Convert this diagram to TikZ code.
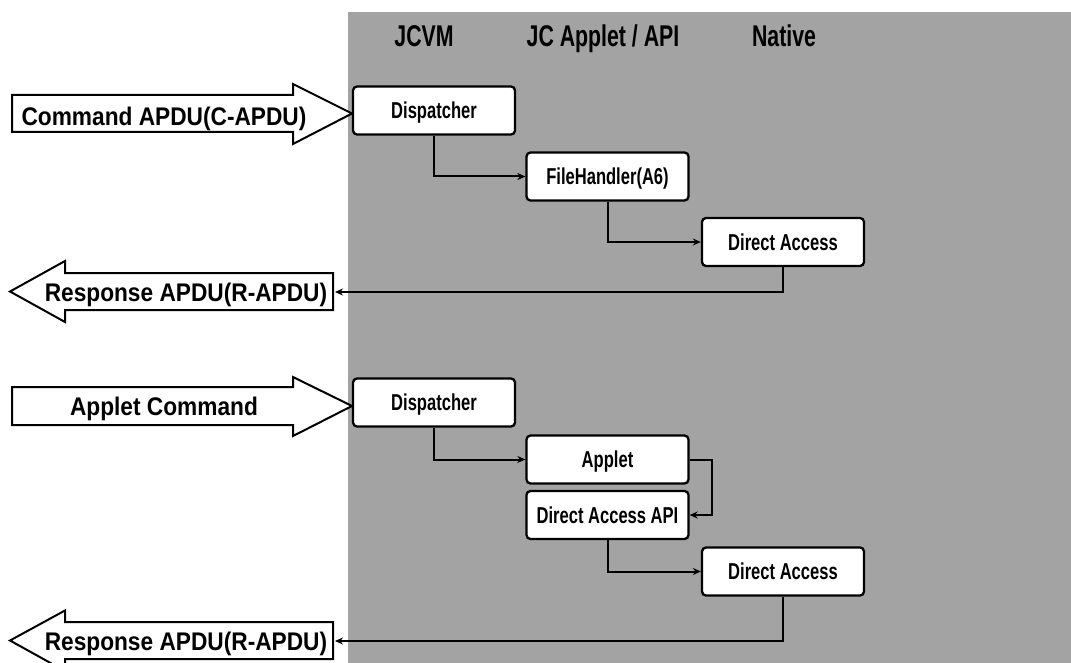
\documentclass[tikz,border=0pt]{standalone}
\usepackage{fontspec}
\setmainfont{Liberation Sans}
\newfontfamily\boxfont[FakeStretch=0.72]{Liberation Sans}
\newfontfamily\headfont[FakeStretch=0.71]{Liberation Sans}
\newfontfamily\lblfont[FakeStretch=0.89]{Liberation Sans}
\usetikzlibrary{arrows.meta}
\definecolor{panel}{gray}{0.64}
\tikzset{
  stage/.style={draw=black, fill=white, line width=2.3pt, rounded corners=4pt,
    minimum width=162pt, minimum height=48pt, inner sep=0pt,
    text height=16.5pt, text depth=0pt,
    font=\boxfont\fontsize{23}{25}\selectfont\bfseries},
  colhead/.style={inner sep=0pt, text height=21.5pt, text depth=0pt,
    font=\headfont\fontsize{30}{32}\selectfont\bfseries},
  biglabel/.style={inner sep=0pt, text height=18.3pt, text depth=0pt,
    font=\lblfont\fontsize{25.5}{27}\selectfont\bfseries},
  bigarrow/.style={draw=black, fill=white, line width=2pt, line join=miter},
  conn/.style={draw=black, line width=2pt,
    -{Stealth[length=8pt,width=7pt]}},
}
\begin{document}
\begin{tikzpicture}[x=1pt,y=-1pt]
\useasboundingbox (0,0) rectangle (1071,663);

% grey panel holding the three layers
\fill[panel] (348,12) rectangle (1071,663);

% layer headings
\node[colhead] (hjcvm) at (424,36) {JCVM};
\node[colhead] (hjcapi) at (603,36) {JC Applet / API};
\node[colhead] (hnat) at (784,36) {Native};

% ---- command APDU flow ----
\draw[bigarrow] (12,95) -- (293,95) -- (293,84) -- (352,113.5) -- (293,144)
  -- (293,132) -- (12,132) -- cycle;
\node[biglabel] (lcmd) at (164,116) {Command APDU(C-APDU)};

\node[stage] (disp1) at (434,110.5) {Dispatcher};
\node[stage] (fh) at (607.5,176.5) {FileHandler(A6)};
\node[stage] (da1) at (783,242) {Direct Access};

\draw[bigarrow] (333,273) -- (65,273) -- (65,261) -- (10,291.5) -- (65,322)
  -- (65,310) -- (333,310) -- cycle;
\node[biglabel] (lresp1) at (186,292) {Response APDU(R-APDU)};
\coordinate (r1) at (335,292);

\draw[conn] (disp1.south) |- (fh.west);
\draw[conn] (fh.south) |- (da1.west);
\draw[conn] (da1.south) |- (r1);

% ---- applet command flow ----
\draw[bigarrow] (12,387) -- (293,387) -- (293,377) -- (352,406) -- (293,436)
  -- (293,425) -- (12,425) -- cycle;
\node[biglabel] (lapp) at (164,406.5) {Applet Command};

\node[stage] (disp2) at (434,402.5) {Dispatcher};
\node[stage] (app) at (607.5,459.5) {Applet};
\node[stage] (api) at (607.5,515) {Direct Access API};
\node[stage] (da2) at (783,571.5) {Direct Access};

\draw[bigarrow] (333,622) -- (65,622) -- (65,610.5) -- (10,640.5) -- (65,671)
  -- (65,659) -- (333,659) -- cycle;
\node[biglabel] (lresp2) at (186,641) {Response APDU(R-APDU)};
\coordinate (r2) at (335,641);

\draw[conn] (disp2.south) |- (app.west);
\draw[conn] (app.east) -- ++(22,0) |- (api.east);
\draw[conn] (api.south) |- (da2.west);
\draw[conn] (da2.south) |- (r2);
\end{tikzpicture}
\end{document}
